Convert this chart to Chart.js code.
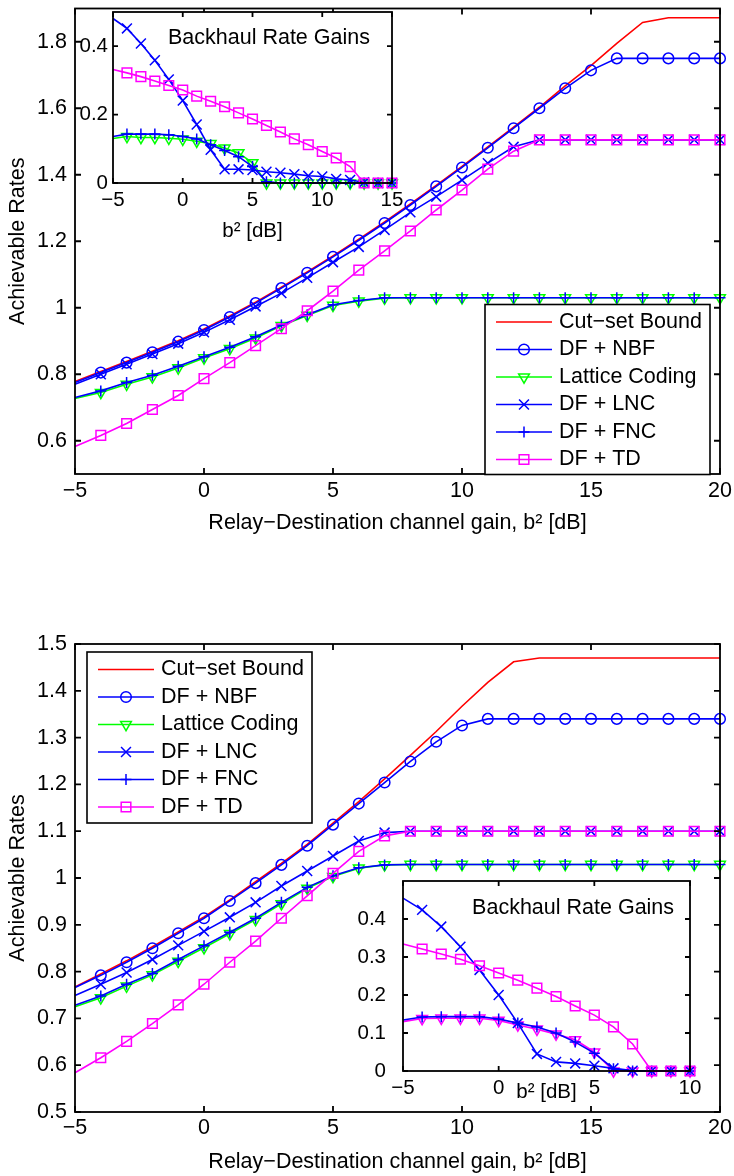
<!DOCTYPE html>
<html>
<head>
<meta charset="utf-8">
<script src="https://cdn.jsdelivr.net/npm/chart.js@4.4.1/dist/chart.umd.min.js"></script>
<style>
  html, body { margin: 0; padding: 0; background: #fff; }
  body { width: 734px; height: 1176px; position: relative; overflow: hidden; }
  canvas { position: absolute; }
</style>
</head>
<body>
<canvas id="mainA" width="734" height="545" style="left:0;top:0"></canvas>
<canvas id="insetA" width="350" height="250" style="left:60px;top:0"></canvas>
<canvas id="mainB" width="734" height="616" style="left:0;top:560px"></canvas>
<canvas id="insetB" width="370" height="240" style="left:340px;top:870px"></canvas>
<script>
// x grids (dB)
const xMain = [-5, -4, -3, -2, -1, 0, 1, 2, 3, 4, 5, 6, 7, 8, 9, 10, 11, 12, 13, 14, 15, 16, 17, 18, 19, 20];
const xInsetA = [-5, -4, -3, -2, -1, 0, 1, 2, 3, 4, 5, 6, 7, 8, 9, 10, 11, 12, 13, 14, 15];
const xInsetB = [-5, -4, -3, -2, -1, 0, 1, 2, 3, 4, 5, 6, 7, 8, 9, 10];

// top figure
const cutA = [0.778, 0.808, 0.838, 0.869, 0.901, 0.936, 0.975, 1.017, 1.062, 1.108, 1.156, 1.206, 1.258, 1.312, 1.368, 1.425, 1.484, 1.543, 1.603, 1.667, 1.728, 1.795, 1.858, 1.872, 1.872, 1.872];
const nbfA = [0.775, 0.805, 0.835, 0.866, 0.898, 0.933, 0.972, 1.014, 1.059, 1.105, 1.153, 1.203, 1.255, 1.309, 1.365, 1.422, 1.481, 1.54, 1.6, 1.66, 1.714, 1.75, 1.75, 1.75, 1.75, 1.75];
const latA = [0.727, 0.745, 0.77, 0.792, 0.819, 0.849, 0.877, 0.909, 0.946, 0.977, 1.007, 1.02, 1.029, 1.03, 1.03, 1.03, 1.03, 1.03, 1.03, 1.03, 1.03, 1.03, 1.03, 1.03, 1.03, 1.03];
const lncA = [0.77, 0.8, 0.83, 0.861, 0.892, 0.926, 0.964, 1.004, 1.044, 1.09, 1.137, 1.183, 1.234, 1.287, 1.334, 1.384, 1.435, 1.484, 1.505, 1.505, 1.505, 1.505, 1.505, 1.505, 1.505, 1.505];
const fncA = [0.73, 0.75, 0.775, 0.797, 0.824, 0.853, 0.881, 0.913, 0.948, 0.979, 1.009, 1.022, 1.03, 1.03, 1.03, 1.03, 1.03, 1.03, 1.03, 1.03, 1.03, 1.03, 1.03, 1.03, 1.03, 1.03];
const tdA = [0.583, 0.616, 0.652, 0.694, 0.736, 0.787, 0.835, 0.886, 0.937, 0.991, 1.05, 1.113, 1.171, 1.231, 1.294, 1.354, 1.417, 1.471, 1.505, 1.505, 1.505, 1.505, 1.505, 1.505, 1.505, 1.505];

// top inset: backhaul rate gains
const gLncA = [0.481, 0.452, 0.408, 0.359, 0.303, 0.241, 0.171, 0.097, 0.04, 0.04, 0.038, 0.033, 0.03, 0.026, 0.021, 0.019, 0.012, 0.009, 0.002, 0, 0];
const gTdA = [0.332, 0.322, 0.311, 0.298, 0.285, 0.272, 0.254, 0.239, 0.223, 0.205, 0.187, 0.168, 0.149, 0.129, 0.112, 0.092, 0.073, 0.048, 0, 0, 0];
const gFncA = [0.136, 0.143, 0.143, 0.143, 0.141, 0.136, 0.129, 0.112, 0.095, 0.077, 0.048, 0.004, 0, 0, 0, 0, 0, 0, 0, 0, 0];
const gLatA = [0.13, 0.136, 0.133, 0.133, 0.131, 0.128, 0.122, 0.115, 0.102, 0.088, 0.059, 0, 0, 0, 0, 0, 0, 0, 0, 0, 0];

// bottom figure
const cutB = [0.767, 0.795, 0.823, 0.853, 0.885, 0.917, 0.953, 0.992, 1.031, 1.072, 1.117, 1.163, 1.212, 1.262, 1.313, 1.367, 1.418, 1.462, 1.47, 1.47, 1.47, 1.47, 1.47, 1.47, 1.47, 1.47];
const nbfB = [0.766, 0.792, 0.82, 0.85, 0.882, 0.914, 0.951, 0.989, 1.028, 1.069, 1.114, 1.159, 1.204, 1.249, 1.291, 1.326, 1.34, 1.34, 1.34, 1.34, 1.34, 1.34, 1.34, 1.34, 1.34, 1.34];
const latB = [0.725, 0.744, 0.769, 0.793, 0.822, 0.851, 0.881, 0.911, 0.945, 0.978, 1.003, 1.021, 1.028, 1.029, 1.029, 1.029, 1.029, 1.029, 1.029, 1.029, 1.029, 1.029, 1.029, 1.029, 1.029, 1.029];
const lncB = [0.749, 0.773, 0.798, 0.826, 0.856, 0.886, 0.916, 0.948, 0.983, 1.015, 1.047, 1.079, 1.097, 1.1, 1.1, 1.1, 1.1, 1.1, 1.1, 1.1, 1.1, 1.1, 1.1, 1.1, 1.1, 1.1];
const fncB = [0.728, 0.748, 0.773, 0.796, 0.826, 0.855, 0.884, 0.914, 0.948, 0.98, 1.005, 1.022, 1.028, 1.029, 1.029, 1.029, 1.029, 1.029, 1.029, 1.029, 1.029, 1.029, 1.029, 1.029, 1.029, 1.029];
const tdB = [0.584, 0.616, 0.651, 0.689, 0.729, 0.773, 0.82, 0.865, 0.914, 0.962, 1.01, 1.057, 1.09, 1.1, 1.1, 1.1, 1.1, 1.1, 1.1, 1.1, 1.1, 1.1, 1.1, 1.1, 1.1, 1.1];

// bottom inset
const gLncB = [0.455, 0.424, 0.38, 0.327, 0.266, 0.2, 0.126, 0.045, 0.024, 0.02, 0.014, 0.007, 0.001, 0, 0, 0];
const gTdB = [0.334, 0.321, 0.308, 0.294, 0.277, 0.258, 0.239, 0.218, 0.196, 0.171, 0.147, 0.116, 0.071, 0, 0, 0];
const gFncB = [0.134, 0.142, 0.143, 0.143, 0.143, 0.137, 0.126, 0.116, 0.1, 0.076, 0.047, 0.006, 0, 0, 0, 0];
const gLatB = [0.13, 0.138, 0.139, 0.139, 0.139, 0.133, 0.121, 0.11, 0.097, 0.082, 0.05, 0, 0, 0, 0, 0];

// ticks
const xTicksMain = [-5, 0, 5, 10, 15, 20];
const yTicksA = [0.6, 0.8, 1, 1.2, 1.4, 1.6, 1.8];
const yTicksB = [0.5, 0.6, 0.7, 0.8, 0.9, 1, 1.1, 1.2, 1.3, 1.4, 1.5];
const xTicksInsetA = [-5, 0, 5, 10, 15];
const yTicksInsetA = [0, 0.2, 0.4];
const xTicksInsetB = [-5, 0, 5, 10];
const yTicksInsetB = [0, 0.1, 0.2, 0.3, 0.4];

const FAMILY = "'Liberation Sans', Arial, Helvetica, sans-serif";
Chart.defaults.font.family = FAMILY;
Chart.defaults.color = "#000";

const LW = 1.6;

const styles = {
  cut: { label: "Cut\u2212set Bound", color: "#ff0000", point: null },
  nbf: { label: "DF + NBF", color: "#0000ff", point: "circle", r: 5.3 },
  lat: { label: "Lattice Coding", color: "#00ff00", point: "triangle", r: 6.2, rot: 180 },
  lnc: { label: "DF + LNC", color: "#0000ff", point: "crossRot", r: 7 },
  fnc: { label: "DF + FNC", color: "#0000ff", point: "cross", r: 5.5 },
  td: { label: "DF + TD", color: "#ff00ff", point: "rect", r: 6.8 }
};

function series(key, xs, ys, i, color) {
  const s = styles[key];
  const c = color || s.color;
  return {
    label: s.label,
    data: xs.map((x, k) => ({ x, y: ys[k] })),
    borderColor: c,
    backgroundColor: "rgba(0,0,0,0)",
    borderWidth: LW,
    pointStyle: s.point || "circle",
    pointRadius: s.point ? (ctx) => (ctx.dataIndex === 0 ? 0 : s.r) : 0,
    pointHoverRadius: 0,
    pointRotation: s.rot || 0,
    pointBorderWidth: 1.5,
    pointBorderColor: c,
    pointBackgroundColor: "rgba(0,0,0,0)",
    tension: 0,
    clip: false,
    order: 10 - i
  };
}

const minusLabel = (v) => (v < 0 ? "\u2212" + Math.abs(v) : String(v));
const decLabel = (v) => String(Math.round(v * 10) / 10);

// box + inward ticks on all four sides, MATLAB style
const axesBox = {
  id: "axesBox",
  beforeDatasetsDraw(chart, args, o) {
    if (!o.fill) return;
    const a = chart.chartArea;
    chart.ctx.save();
    chart.ctx.fillStyle = "#fff";
    chart.ctx.fillRect(a.left, a.top, a.width, a.height);
    chart.ctx.restore();
  },
  afterDatasetsDraw(chart, args, o) {
    if (!o.tick) return;
    const { ctx, chartArea: a, scales: { x, y } } = chart;
    ctx.save();
    ctx.strokeStyle = "#000";
    ctx.lineWidth = o.width;
    ctx.beginPath();
    x.ticks.forEach((t) => {
      const p = x.getPixelForValue(t.value);
      ctx.moveTo(p, a.bottom); ctx.lineTo(p, a.bottom - o.tick);
      ctx.moveTo(p, a.top); ctx.lineTo(p, a.top + o.tick);
    });
    y.ticks.forEach((t) => {
      const p = y.getPixelForValue(t.value);
      ctx.moveTo(a.left, p); ctx.lineTo(a.left + o.tick, p);
      ctx.moveTo(a.right, p); ctx.lineTo(a.right - o.tick, p);
    });
    ctx.stroke();
    ctx.strokeRect(a.left, a.top, a.width, a.height);
    ctx.restore();
  }
};

// text placed at data coordinates
const insetTitle = {
  id: "insetTitle",
  afterDatasetsDraw(chart, args, o) {
    if (!o.text) return;
    const { ctx, scales: { x, y } } = chart;
    ctx.save();
    ctx.font = `${o.size}px ${FAMILY}`;
    ctx.fillStyle = "#000";
    ctx.textAlign = "center";
    ctx.textBaseline = "middle";
    ctx.fillText(o.text, x.getPixelForValue(o.at[0]), y.getPixelForValue(o.at[1]));
    ctx.restore();
  }
};

// legend box drawn inside the axes
const legendBox = {
  id: "legendBox",
  afterDraw(chart, args, o) {
    if (!o.rect) return;
    const { ctx, chartArea: a } = chart;
    const [dx, dy, w, h] = o.rect;
    const left = a.left + dx, top = a.top + dy;
    ctx.save();
    ctx.fillStyle = "#fff";
    ctx.fillRect(left, top, w, h);
    ctx.strokeStyle = "#000";
    ctx.lineWidth = 1.6;
    ctx.strokeRect(left, top, w, h);
    ctx.font = `${o.size}px ${FAMILY}`;
    ctx.textBaseline = "middle";
    ctx.textAlign = "left";
    o.items.forEach((key, i) => {
      const s = styles[key];
      const yy = top + 17.5 + i * 27.5;
      ctx.strokeStyle = s.color;
      ctx.lineWidth = LW;
      ctx.beginPath();
      ctx.moveTo(left + 11, yy);
      ctx.lineTo(left + 67, yy);
      ctx.stroke();
      if (s.point) {
        ctx.fillStyle = "rgba(0,0,0,0)";
        ctx.lineWidth = 1.5;
        Chart.helpers.drawPoint(ctx, { pointStyle: s.point, rotation: s.rot || 0, radius: s.r, borderWidth: 1.5 }, left + 39, yy);
      }
      ctx.fillStyle = "#000";
      ctx.fillText(s.label, left + 74, yy);
    });
    ctx.restore();
  }
};

Chart.register(axesBox, insetTitle, legendBox);

function makeChart(id, datasets, p) {
  new Chart(document.getElementById(id), {
    type: "line",
    data: { datasets },
    options: {
      responsive: false,
      animation: false,
      events: [],
      layout: { padding: { left: 0, top: p.top, right: p.right, bottom: 0 } },
      plugins: {
        legend: { display: false },
        tooltip: { enabled: false },
        axesBox: { tick: p.tick, width: 1.8, fill: p.fill },
        insetTitle: p.title || {},
        legendBox: p.legend || {}
      },
      scales: {
        x: {
          type: "linear", min: p.xr[0], max: p.xr[1],
          afterBuildTicks: (s) => { s.ticks = p.xTicks.map((v) => ({ value: v })); },
          afterFit: (s) => { s.height = p.xHeight; s.paddingLeft = 0; s.paddingRight = 0; },
          grid: { display: false, drawTicks: false },
          border: { display: false },
          ticks: { padding: p.xPad, font: { size: p.font }, callback: minusLabel, maxRotation: 0, autoSkip: false },
          title: { display: true, text: p.xTitle, font: { size: p.font }, padding: { top: 0, bottom: p.xTitlePad } }
        },
        y: {
          type: "linear", min: p.yr[0], max: p.yr[1],
          afterBuildTicks: (s) => { s.ticks = p.yTicks.map((v) => ({ value: v })); },
          afterFit: (s) => { s.width = p.yWidth; s.paddingTop = 0; s.paddingBottom = 0; },
          grid: { display: false, drawTicks: false },
          border: { display: false },
          ticks: { padding: p.yPad, font: { size: p.font }, callback: decLabel, autoSkip: false },
          title: { display: !!p.yTitle, text: p.yTitle || "", font: { size: p.font }, padding: { top: 5, bottom: 0 } }
        }
      }
    }
  });
}

const keys = ["cut", "nbf", "lat", "lnc", "fnc", "td"];
const xTitleMain = "Relay\u2212Destination channel gain, b\u00b2 [dB]";

makeChart("mainA", [cutA, nbfA, latA, lncA, fncA, tdA].map((ys, i) => series(keys[i], xMain, ys, i)), {
  top: 6, right: 14, xr: [-5, 20], yr: [0.5, 1.9], xTicks: xTicksMain, yTicks: yTicksA,
  xHeight: 71, yWidth: 75, xPad: 4, yPad: 8, font: 21.5, xTitle: xTitleMain, xTitlePad: 9,
  yTitle: "Achievable Rates", tick: 6,
  legend: { rect: [410, 296, 225, 170], items: keys, size: 21.5 }
});

makeChart("insetA", [gLatA, gLncA, gFncA, gTdA].map((ys, i) => series(["lat", "lnc", "fnc", "td"][i], xInsetA, ys, i + 2)), {
  top: 12, right: 18, xr: [-5, 15], yr: [0, 0.5], xTicks: xTicksInsetA, yTicks: yTicksInsetA,
  xHeight: 67, yWidth: 53, xPad: 5, yPad: 5, font: 20.5, xTitle: "b\u00b2 [dB]", xTitlePad: 6,
  tick: 5, fill: true,
  title: { text: "Backhaul Rate Gains", at: [6.18, 0.425], size: 21.5 }
});

makeChart("mainB", [cutB, nbfB, latB, lncB, fncB, tdB].map((ys, i) => series(keys[i], xMain, ys, i)), {
  top: 84, right: 14, xr: [-5, 20], yr: [0.5, 1.5], xTicks: xTicksMain, yTicks: yTicksB,
  xHeight: 64, yWidth: 75, xPad: 3, yPad: 8, font: 21.5, xTitle: xTitleMain, xTitlePad: 1,
  yTitle: "Achievable Rates", tick: 6,
  legend: { rect: [12, 8, 225, 171], items: keys, size: 21.5 }
});

makeChart("insetB", [gLatB, gLncB, gFncB, gTdB].map((ys, i) => series(["lat", "lnc", "fnc", "td"][i], xInsetB, ys, i + 2, i === 0 ? "#ff00ff" : null)), {
  top: 11, right: 20, xr: [-5, 10], yr: [0, 0.5], xTicks: xTicksInsetB, yTicks: yTicksInsetB,
  xHeight: 39, yWidth: 63, xPad: 5, yPad: 17, font: 20.5, xTitle: "b\u00b2 [dB]", xTitlePad: 5,
  tick: 5, fill: true,
  title: { text: "Backhaul Rate Gains", at: [3.89, 0.429], size: 21.5 }
});
</script>
</body>
</html>
